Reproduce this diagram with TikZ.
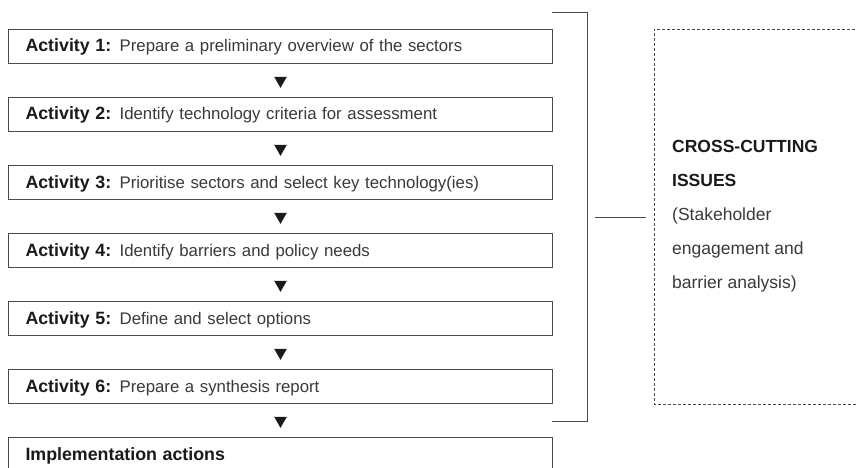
\documentclass[tikz,border=0pt]{standalone}
\usepackage{fontspec}
\setmainfont{Liberation Sans}
\usetikzlibrary{shapes.geometric,calc}
\definecolor{txtgray}{HTML}{3A3A3A}
\definecolor{linegray}{HTML}{4A4A4A}
\definecolor{boldblack}{HTML}{1A1A1A}
\tikzset{
  actbox/.style={draw=linegray, line width=1pt, anchor=north west,
    text width=510pt, inner xsep=17pt, inner ysep=0pt, minimum height=34pt,
    text height=13pt, text depth=2pt,
    align=left, font=\fontsize{16.8}{19}\selectfont, text=txtgray},
  steptri/.style={isosceles triangle, isosceles triangle apex angle=60,
    shape border rotate=-90, fill=boldblack, draw=none, inner sep=0pt,
    minimum width=12pt, minimum height=11pt},
  bracketline/.style={draw=linegray, line width=1pt},
  crossbox/.style={draw=linegray, line width=0.8pt, densely dashed},
  crosstext/.style={anchor=west, align=left, inner sep=0pt, text=txtgray,
    font=\fontsize{17.5}{34}\selectfont}
}
\newcommand{\actlabel}[1]{{\fontsize{17.8}{19}\selectfont\bfseries\color{boldblack}#1}}
\begin{document}
\begin{tikzpicture}[x=1pt,y=-1pt]
  \clip (0,0) rectangle (856,468);
  \fill[white] (0,0) rectangle (856,468);
  % activity boxes
  \node[actbox] (a1) at (8,29)  {\actlabel{Activity 1:} Prepare a preliminary overview of the sectors};
  \node[actbox] (a2) at (8,97)  {\actlabel{Activity 2:} Identify technology criteria for assessment};
  \node[actbox] (a3) at (8,165) {\actlabel{Activity 3:} Prioritise sectors and select key technology(ies)};
  \node[actbox] (a4) at (8,233) {\actlabel{Activity 4:} Identify barriers and policy needs};
  \node[actbox] (a5) at (8,301) {\actlabel{Activity 5:} Define and select options};
  \node[actbox] (a6) at (8,369) {\actlabel{Activity 6:} Prepare a synthesis report};
  \node[actbox] (impl) at (8,437) {\actlabel{Implementation actions}};
  % arrows between boxes
  \foreach \u/\v in {a1/a2,a2/a3,a3/a4,a4/a5,a5/a6,a6/impl}{
    \node[steptri] at ($(\u.south)!0.5!(\v.north)$) {};
  }
  % bracket
  \coordinate (bt) at (552,13);
  \coordinate (btr) at (587,13);
  \coordinate (bbr) at (587,421);
  \coordinate (bb) at (552,421);
  \coordinate (bmid) at (587,217);
  \draw[bracketline] (bt) -- (btr) -- (bbr) -- (bb);
  % cross-cutting box
  \coordinate (cbl) at (654,29);
  \coordinate (cbb) at (654,404);
  \draw[crossbox] (870,29) -- (cbl) -- (cbb) -- (870,404);
  \coordinate (cmid) at (654,217);
  \draw[bracketline] ([xshift=8pt]bmid) -- ([xshift=-8pt]cmid);
  \node[crosstext] (ct) at (672,216) {\textbf{\color{boldblack}CROSS-CUTTING}\\\textbf{\color{boldblack}ISSUES}\\(Stakeholder\\engagement and\\barrier analysis)};
\end{tikzpicture}
\end{document}
